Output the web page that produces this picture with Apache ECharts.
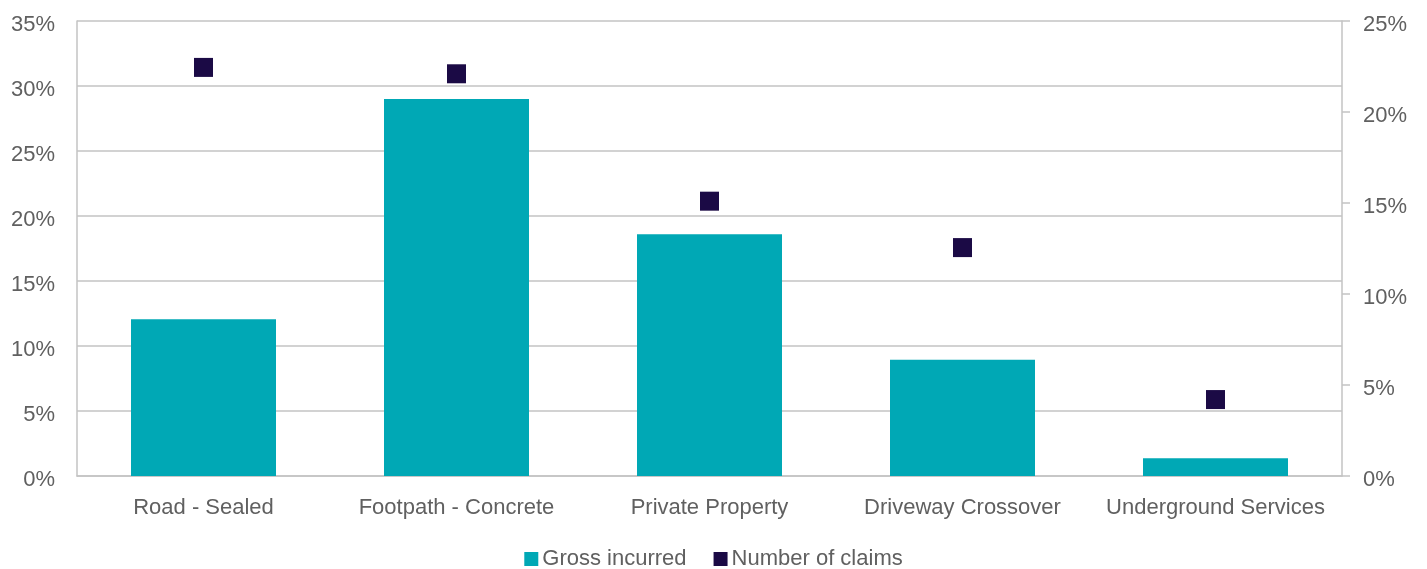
<!DOCTYPE html>
<html>
<head>
<meta charset="utf-8">
<script src="https://cdn.jsdelivr.net/npm/echarts@6/dist/echarts.min.js"></script>
<style>
  html, body { margin: 0; padding: 0; background: #ffffff; }
  #chart { width: 1427px; height: 569px; }
</style>
</head>
<body>
<div id="chart"></div>
<script>
// Claim categories and their shares
const categories = ['Road - Sealed', 'Footpath - Concrete', 'Private Property', 'Driveway Crossover', 'Underground Services'];
const grossIncurred = [12.05, 29.0, 18.6, 8.95, 1.36];   // % of gross incurred (left axis)
const numberOfClaims = [22.45, 22.1, 15.1, 12.55, 4.2];  // % of number of claims (right axis)
const leftTicks = { min: 0, max: 35, interval: 5 };
const rightTicks = { min: 0, max: 25, interval: 5 };

const FONT = '"Liberation Sans", Arial, sans-serif';
const TEXT = '#606060';
const LINE = '#c3c3c3';
const FS = 22;

// Percent tick label, nudged a little below its grid line
const pctLabel = (margin) => ({
  formatter: (v) => '{p|' + v + '%}',
  margin: margin,
  rich: { p: { fontFamily: FONT, fontSize: FS, color: TEXT, padding: [8, 0, 0, 0] } }
});

const chart = echarts.init(document.getElementById('chart'));
chart.setOption({
  animation: false,
  textStyle: { fontFamily: FONT },
  grid: { left: 77, right: 85, top: 21, bottom: 93, containLabel: false },
  legend: {
    left: 'center',
    top: 543,
    itemWidth: 14,
    itemHeight: 14,
    itemGap: 27,
    textStyle: { fontFamily: FONT, fontSize: FS, color: TEXT, padding: [0, 0, 0, -1] },
    data: [
      { name: 'Gross incurred', icon: 'rect' },
      { name: 'Number of claims', icon: 'rect' }
    ]
  },
  xAxis: {
    type: 'category',
    data: categories,
    axisLine: { show: true, lineStyle: { color: LINE, width: 1.5 } },
    axisTick: { show: false },
    axisLabel: { interval: 0, fontFamily: FONT, fontSize: FS, color: TEXT, margin: 21 }
  },
  yAxis: [
    {
      type: 'value',
      min: leftTicks.min, max: leftTicks.max, interval: leftTicks.interval,
      axisLine: { show: true, lineStyle: { color: LINE, width: 1.5 } },
      axisTick: { show: false },
      splitLine: { show: true, lineStyle: { color: LINE, width: 1.5 } },
      axisLabel: pctLabel(22)
    },
    {
      type: 'value',
      position: 'right',
      min: rightTicks.min, max: rightTicks.max, interval: rightTicks.interval,
      axisLine: { show: true, lineStyle: { color: LINE, width: 1.5 } },
      axisTick: { show: true, length: 8, lineStyle: { color: LINE, width: 1.5 } },
      splitLine: { show: false },
      axisLabel: pctLabel(21)
    }
  ],
  series: [
    {
      name: 'Gross incurred',
      type: 'bar',
      yAxisIndex: 0,
      data: grossIncurred,
      barWidth: 145,
      itemStyle: { color: '#00a8b5' }
    },
    {
      name: 'Number of claims',
      type: 'scatter',
      yAxisIndex: 1,
      data: numberOfClaims,
      symbol: 'rect',
      symbolSize: 19,
      itemStyle: { color: '#1b0a45', opacity: 1 }
    }
  ]
});
</script>
</body>
</html>
